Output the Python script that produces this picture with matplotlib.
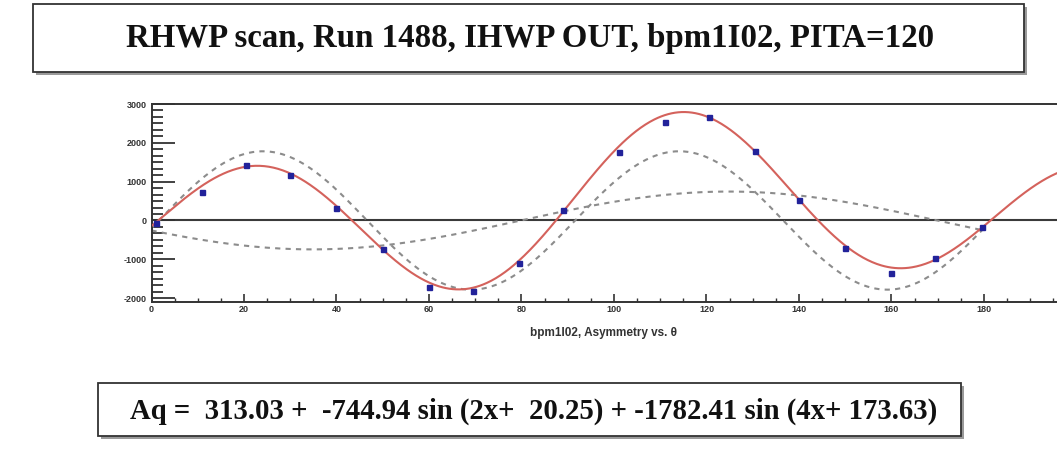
import numpy as np
import matplotlib
matplotlib.use("Agg")
import matplotlib.pyplot as plt
from matplotlib.patches import Rectangle
from matplotlib.ticker import MultipleLocator

plt.rcParams["axes.unicode_minus"] = False

# ---- data ----
title = "RHWP scan, Run 1488, IHWP OUT, bpm1I02, PITA=120"
formula = "Aq =  313.03 +  -744.94 sin (2x+  20.25) + -1782.41 sin (4x+ 173.63)"
xlabel = "bpm1I02, Asymmetry vs. \u03b8"

angle = [1, 11, 20.5, 30, 40, 50, 60, 69.5, 79.5, 89, 101, 111, 120.5, 130.5, 140, 150, 160, 169.5, 179.5]
asym = [-60, 743, 1436, 1172, 326, -726, -1709, -1812, -1095, 274, 1751, 2538, 2667, 1786, 538, -718, -1341, -974, -171]

# fit parameters shown in the chart
p0 = 313.03
a2, ph2 = -744.94, 20.25
a4, ph4 = -1782.41, 173.63

xticks = [0, 20, 40, 60, 80, 100, 120, 140, 160, 180]
yticks = [-2000, -1000, 0, 1000, 2000, 3000]

W, H = 1057, 454
fig = plt.figure(figsize=(W / 100, H / 100), dpi=100)
fig.patch.set_facecolor("white")

def fx(px):
    return px / W

def fy(py):
    return 1 - py / H

def box(x0, y0, x1, y1):
    sh = Rectangle((fx(x0 + 3), fy(y1 + 3)), fx(x1 - x0), (y1 - y0) / H,
                   transform=fig.transFigure, facecolor="#9a9a9a", edgecolor="none", zorder=0)
    bx = Rectangle((fx(x0), fy(y1)), fx(x1 - x0), (y1 - y0) / H,
                   transform=fig.transFigure, facecolor="white", edgecolor="#333333", lw=1.3, zorder=1)
    fig.patches.extend([sh, bx])

box(33, 4, 1024, 72)
box(98, 383, 961, 436)

fig.text(fx(530), fy(39), title, ha="center", va="center", fontsize=23.7,
         fontweight="bold", family="Liberation Serif", color="#111111", zorder=3)
fig.text(fx(534), fy(411), formula, ha="center", va="center", fontsize=20.7,
         fontweight="bold", family="Liberation Serif", color="#111111", zorder=3)

# axes
left, right_px, top, bottom = 151.5, 1062.6, 104, 302
ax = fig.add_axes([fx(left), fy(bottom), fx(right_px - left), (bottom - top) / H])
ax.set_xlim(0, 197)
ax.set_ylim(-2100, 3000)
ax.set_facecolor("white")

xs_full = np.linspace(0, 197, 800)
xs_dash = np.linspace(0, 180, 600)
fit = p0 + a2 * np.sin(np.radians(2 * xs_full + ph2)) + a4 * np.sin(np.radians(4 * xs_full + ph4))
c2 = a2 * np.sin(np.radians(2 * xs_dash + ph2))
c4 = a4 * np.sin(np.radians(4 * xs_dash + ph4))

ax.axhline(0, color="#3a3a3a", lw=1.5, zorder=1)
ax.plot(xs_dash, c2, color="#8c8c8c", lw=1.5, ls=(0, (2.5, 2.5)), zorder=2)
ax.plot(xs_dash, c4, color="#8c8c8c", lw=1.5, ls=(0, (2.5, 2.5)), zorder=2)
ax.plot(xs_full, fit, color="#d4625c", lw=1.5, zorder=3)
ax.plot(angle, asym, ls="none", marker="s", ms=3.6, color="#22229a", zorder=4)

for s in ["left", "bottom", "top"]:
    ax.spines[s].set_color("#333333")
    ax.spines[s].set_linewidth(1.4)
ax.spines["right"].set_visible(False)

ax.set_xticks(xticks)
ax.set_yticks(yticks)
ax.xaxis.set_minor_locator(MultipleLocator(5))
ax.yaxis.set_minor_locator(MultipleLocator(1000 / 6))
ax.tick_params(axis="y", which="major", direction="in", length=16.5, width=1.3, color="#333333", pad=3.5)
ax.tick_params(axis="y", which="minor", direction="in", length=8, width=1.3, color="#333333")
ax.tick_params(axis="x", which="major", direction="in", length=6, width=1.2, color="#333333", pad=2)
ax.tick_params(axis="x", which="minor", direction="in", length=3, width=1.0, color="#333333")
for lab in ax.get_xticklabels() + ax.get_yticklabels():
    lab.set_fontsize(6.5)
    lab.set_fontweight("bold")
    lab.set_family("Liberation Sans")
    lab.set_color("#333333")

fig.text(fx(603), fy(333), xlabel, ha="center", va="center", fontsize=8.5,
         fontweight="bold", family=["Liberation Sans", "DejaVu Sans"], color="#333333")

fig.savefig("out.png", dpi=100, facecolor="white")
